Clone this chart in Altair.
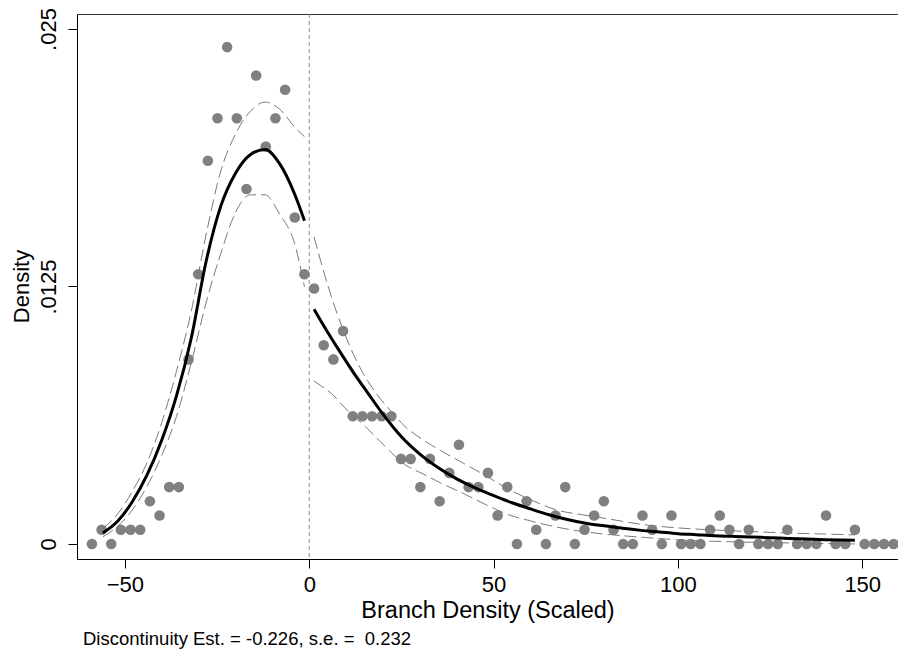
import altair as alt
import pandas as pd

# Binned density (bin centres and density per bin), left and right of the cutoff
left_bin_x = [-58.95, -56.33, -53.71, -51.09, -48.47, -45.85, -43.23, -40.61, -37.99, -35.37,
              -32.75, -30.13, -27.51, -24.89, -22.27, -19.65, -17.03, -14.41, -11.79, -9.17,
              -6.55, -3.93, -1.31]
left_bin_y = [0.0, 0.00069, 0.0, 0.00069, 0.00069, 0.00069, 0.00207, 0.00138, 0.00276, 0.00276,
              0.00896, 0.01309, 0.01860, 0.02067, 0.02412, 0.02067, 0.01723, 0.02274, 0.01929, 0.02067,
              0.02205, 0.01585, 0.01309]

right_bin_x = [1.31, 3.93, 6.55, 9.17, 11.79, 14.41, 17.03, 19.65, 22.27, 24.89,
               27.51, 30.13, 32.75, 35.37, 37.99, 40.61, 43.23, 45.85, 48.47, 51.09,
               53.71, 56.33, 58.95, 61.57, 64.19, 66.81, 69.43, 72.05, 74.67, 77.29,
               79.91, 82.53, 85.15, 87.77, 90.39, 93.01, 95.63, 98.25, 100.87, 103.49,
               106.11, 108.73, 111.35, 113.97, 116.59, 119.21, 121.83, 124.45, 127.07, 129.69,
               132.31, 134.93, 137.55, 140.17, 142.79, 145.41, 148.03, 150.65, 153.27, 155.89,
               158.51]
right_bin_y = [0.01240, 0.00965, 0.00896, 0.01034, 0.00620, 0.00620, 0.00620, 0.00620, 0.00620, 0.00413,
               0.00413, 0.00276, 0.00413, 0.00207, 0.00345, 0.00482, 0.00276, 0.00276, 0.00345, 0.00138,
               0.00276, 0.0, 0.00207, 0.00069, 0.0, 0.00138, 0.00276, 0.0, 0.00069, 0.00138,
               0.00207, 0.00069, 0.0, 0.0, 0.00138, 0.00069, 0.0, 0.00138, 0.0, 0.0,
               0.0, 0.00069, 0.00138, 0.00069, 0.0, 0.00069, 0.0, 0.0, 0.0, 0.00069,
               0.0, 0.0, 0.0, 0.00138, 0.0, 0.0, 0.00069, 0.0, 0.0, 0.0,
               0.0]

# Local-polynomial fit and 95% band, left of the cutoff
fit_left_x = [-56, -52, -48, -44, -40, -36, -32, -28, -24, -20, -16, -12, -8, -4, -1.3]
fit_left = [0.00053, 0.00110, 0.00205, 0.00335, 0.00505, 0.00720, 0.01000, 0.01370, 0.01640,
            0.01800, 0.01890, 0.01915, 0.01845, 0.01700, 0.01569]
hi_left = [0.00075, 0.00145, 0.00255, 0.00395, 0.00590, 0.00840, 0.01130, 0.01500, 0.01810,
           0.01990, 0.02100, 0.02145, 0.02110, 0.02025, 0.01977]
lo_left = [0.00035, 0.00085, 0.00165, 0.00280, 0.00430, 0.00620, 0.00880, 0.01170, 0.01410,
           0.01610, 0.01695, 0.01695, 0.01600, 0.01460, 0.01249]

# Fit and band right of the cutoff
fit_right_x = [1.3, 5, 8, 12, 16, 20, 25, 30, 35, 40, 45, 50, 55, 60, 65, 70, 75, 80, 85, 90,
               95, 100, 105, 110, 115, 120, 125, 130, 135, 140, 148]
fit_right = [0.01140, 0.01028, 0.00942, 0.00832, 0.00730, 0.00630, 0.00520, 0.00436, 0.00370,
             0.00316, 0.00272, 0.00235, 0.00200, 0.00170, 0.00142, 0.00119, 0.00101, 0.00088,
             0.00076, 0.00066, 0.00058, 0.00050, 0.00045, 0.00040, 0.00037, 0.00034, 0.00030,
             0.00027, 0.00024, 0.00021, 0.00018]
band_right_x = [1.3, 3, 6, 9.2, 12, 14.6, 18, 21.9, 26, 30.9, 36, 41.8, 48, 54.4, 60, 67.1,
                74.3, 80, 91.5, 100, 109.6, 120, 130, 140, 148]
hi_right = [0.01490, 0.01380, 0.01200, 0.01039, 0.00920, 0.00829, 0.00735, 0.00650, 0.00570,
            0.00505, 0.00450, 0.00392, 0.00330, 0.00262, 0.00215, 0.00165, 0.00141, 0.00125,
            0.00092, 0.00078, 0.00068, 0.00060, 0.00053, 0.00048, 0.00044]
lo_right = [0.00791, 0.00770, 0.00731, 0.00670, 0.00620, 0.00580, 0.00520, 0.00450, 0.00385,
            0.00340, 0.00293, 0.00245, 0.00190, 0.00140, 0.00112, 0.00082, 0.00060, 0.00048,
            0.00031, 0.00020, 0.00013, 0.00008, 0.00005, 0.00002, 0.00000]

# Non-breaking space keeps the double gap before the standard error
note_text = "Discontinuity Est. = -0.226, s.e. =\u00a0 0.232"

FONT = "Liberation Sans"

bins = pd.DataFrame({
    "x": left_bin_x + right_bin_x,
    "y": left_bin_y + right_bin_y,
})

fit = pd.DataFrame({
    "x": fit_left_x + fit_right_x,
    "y": fit_left + fit_right,
    "side": ["left"] * len(fit_left_x) + ["right"] * len(fit_right_x),
})

band = pd.DataFrame({
    "x": fit_left_x + fit_left_x + band_right_x + band_right_x,
    "y": hi_left + lo_left + hi_right + lo_right,
    "curve": (["hi_left"] * len(fit_left_x) + ["lo_left"] * len(fit_left_x)
              + ["hi_right"] * len(band_right_x) + ["lo_right"] * len(band_right_x)),
})

x_scale = alt.Scale(domain=[-63.0, 159.7], nice=False, zero=False)
y_scale = alt.Scale(domain=[-0.00073, 0.025728], nice=False, zero=False)

x_axis = alt.Axis(
    values=[-50, 0, 50, 100, 150], title="Branch Density (Scaled)", grid=False,
    domainColor="black", tickColor="black", tickSize=9, tickWidth=1,
    labelFont=FONT, labelFontSize=22, labelColor="black", labelPadding=6,
    titleFont=FONT, titleFontSize=23.5, titleFontWeight="normal", titleColor="black",
    titleBaseline="alphabetic", titleY=58,
)
y_axis = alt.Axis(
    values=[0, 0.0125, 0.025], title="Density", grid=False,
    labelExpr="datum.value == 0 ? '0' : replace(format(datum.value, '.4~f'), '0.', '.')",
    domainColor="black", tickColor="black", tickSize=9, tickWidth=1,
    labelFont=FONT, labelFontSize=22, labelColor="black", labelAngle=270,
    labelAlign="center", labelBaseline="alphabetic", labelPadding=13,
    titleFont=FONT, titleFontSize=22, titleFontWeight="normal", titleColor="black",
    titleAngle=270, titleAlign="center", titleBaseline="alphabetic", titleX=-49, titleY=272,
)

points = alt.Chart(bins).mark_circle(size=112, color="#808080", opacity=1).encode(
    x=alt.X("x:Q", scale=x_scale, axis=x_axis),
    y=alt.Y("y:Q", scale=y_scale, axis=y_axis),
)

cutoff = alt.Chart(pd.DataFrame({"x": [0]})).mark_rule(
    color="#8c8c8c", strokeWidth=1, strokeDash=[4, 3]
).encode(x=alt.X("x:Q", scale=x_scale))

bands = alt.Chart(band).mark_line(
    color="#7a7a7a", strokeWidth=1, strokeDash=[12, 5], interpolate="monotone"
).encode(
    x=alt.X("x:Q", scale=x_scale),
    y=alt.Y("y:Q", scale=y_scale),
    detail="curve:N",
)

fits = alt.Chart(fit).mark_line(
    color="black", strokeWidth=3, interpolate="monotone"
).encode(
    x=alt.X("x:Q", scale=x_scale),
    y=alt.Y("y:Q", scale=y_scale),
    detail="side:N",
)

note = alt.Chart(pd.DataFrame({"t": [note_text]})).mark_text(
    font=FONT, fontSize=18.5, color="black", align="left", baseline="alphabetic"
).encode(text="t:N", x=alt.value(6), y=alt.value(631))

chart = alt.layer(cutoff, points, bands, fits, note).properties(
    width=821, height=545,
    padding={"left": 77, "top": 14, "right": 0, "bottom": 97},
    autosize=alt.AutoSizeParams(type="none"),
    background="white",
).configure_view(stroke="#333333", strokeWidth=1)

chart.save("out.html", embed_options={"renderer": "svg", "actions": False})
